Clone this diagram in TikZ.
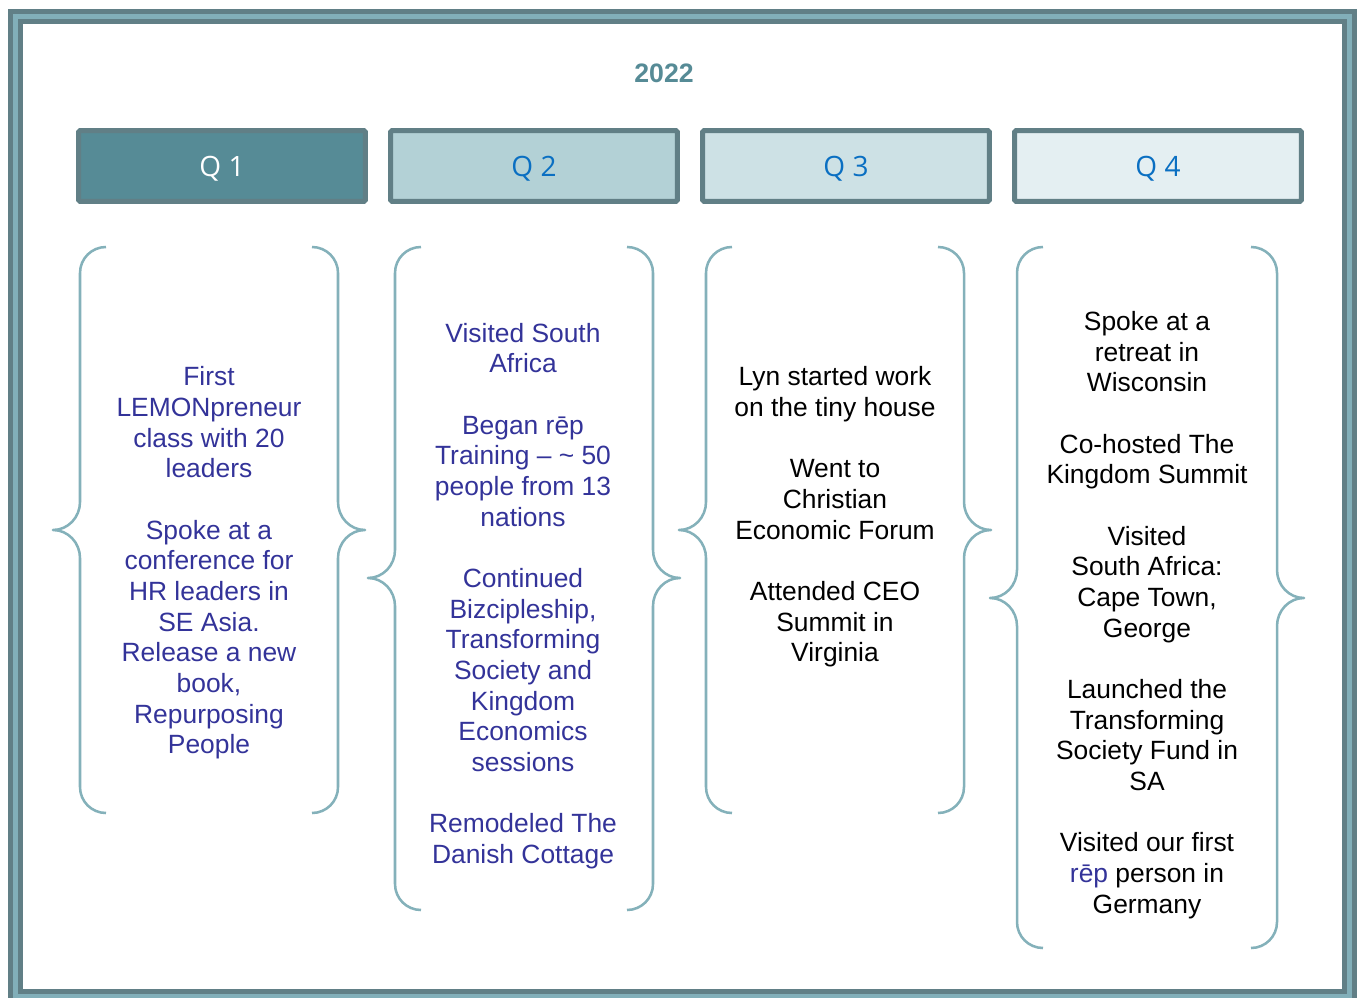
\documentclass[tikz,border=0pt]{standalone}
\usepackage{fontspec}
\setmainfont{Liberation Sans}
\newfontfamily\qfont{Open Sans}
\definecolor{framedark}{HTML}{617F86}
\definecolor{framelight}{HTML}{82AFB9}
\definecolor{qone}{HTML}{568B96}
\definecolor{qtwo}{HTML}{B3D1D6}
\definecolor{qthree}{HTML}{CDE1E5}
\definecolor{qfour}{HTML}{E4EFF2}
\definecolor{qblue}{HTML}{0A6FC2}
\definecolor{braceteal}{HTML}{84B1BA}
\definecolor{eventblue}{HTML}{333399}

\begin{document}
\begin{tikzpicture}[x=0.75pt, y=-0.75pt,
    quarter/.style={draw=framedark, line width=3.75pt, rounded corners=1pt,
      minimum width=215pt, minimum height=53pt, inner sep=0pt, text depth=0pt,
      font=\qfont\fontsize{21}{25}\selectfont},
    events/.style={align=center, inner sep=0pt,
      font=\fontsize{19.8}{23}\selectfont}]
        \useasboundingbox (0,0) rectangle (1358,998);
        % Frame
        \draw[line width=11.25pt, framedark] (15,17) rectangle (1349,996);
        \draw[line width=3.75pt, framelight] (15,17) rectangle (1349,996);
        % Year
        \node[text=qone, font=\bfseries\fontsize{20}{24}\selectfont] (year) at (664,73) {2022};
        % Quarters
        \node[quarter, fill=qone, text=white] (q1) at (222,166) {Q 1};
        \node[quarter, fill=qtwo, text=qblue] (q2) at (534,166) {Q 2};
        \node[quarter, fill=qthree, text=qblue] (q3) at (846,166) {Q 3};
        \node[quarter, fill=qfour, text=qblue] (q4) at (1158,166) {Q 4};
        % Braces
        \foreach \l/\r/\t/\b/\m in {80/338/247/813/530, 395/653/247/910/578,
                                     706/964/247/813/530, 1017/1277/247/948/598} {
          \draw[braceteal, line width=1.9pt, line join=round] (\l+26,\t) to[out=180,in=90] (\l,\t+26)
            -- (\l,\m-28) to[out=-90,in=0] (\l-27,\m) to[out=0,in=90] (\l,\m+28)
            -- (\l,\b-26) to[out=-90,in=180] (\l+26,\b);
          \draw[braceteal, line width=1.9pt, line join=round] (\r-26,\t) to[out=0,in=90] (\r,\t+26)
            -- (\r,\m-28) to[out=-90,in=180] (\r+27,\m) to[out=180,in=90] (\r,\m+28)
            -- (\r,\b-26) to[out=-90,in=0] (\r-26,\b);
        }
        % Events
        \node[events, text=eventblue] (e1) at (209,563) {First\\ LEMONpreneur\\ class with 20\\ leaders\\[\baselineskip]
          Spoke at a\\ conference for\\ HR leaders in\\ SE Asia.\\ Release a new\\ book,\\ Repurposing\\ People};
        \node[events, text=eventblue] (e2) at (523,596) {Visited South\\ Africa\\[\baselineskip]
          Began rēp\\ Training – \textasciitilde{} 50\\ people from 13\\ nations\\[\baselineskip]
          Continued\\ Bizcipleship,\\ Transforming\\ Society and\\ Kingdom\\ Economics\\ sessions\\[\baselineskip]
          Remodeled The\\ Danish Cottage};
        \node[events] (e3) at (835,517) {Lyn started work\\ on the tiny house\\[\baselineskip]
          Went to\\ Christian\\ Economic Forum\\[\baselineskip]
          Attended CEO\\ Summit in\\ Virginia};
        \node[events] (e4) at (1147,615) {Spoke at a\\ retreat in\\ Wisconsin\\[\baselineskip]
          Co-hosted The\\ Kingdom Summit\\[\baselineskip]
          Visited\\ South Africa:\\ Cape Town,\\ George\\[\baselineskip]
          Launched the\\ Transforming\\ Society Fund in\\ SA\\[\baselineskip]
          Visited our first\\ \textcolor{eventblue}{rēp} person in\\ Germany};
      \end{tikzpicture}
\end{document}
